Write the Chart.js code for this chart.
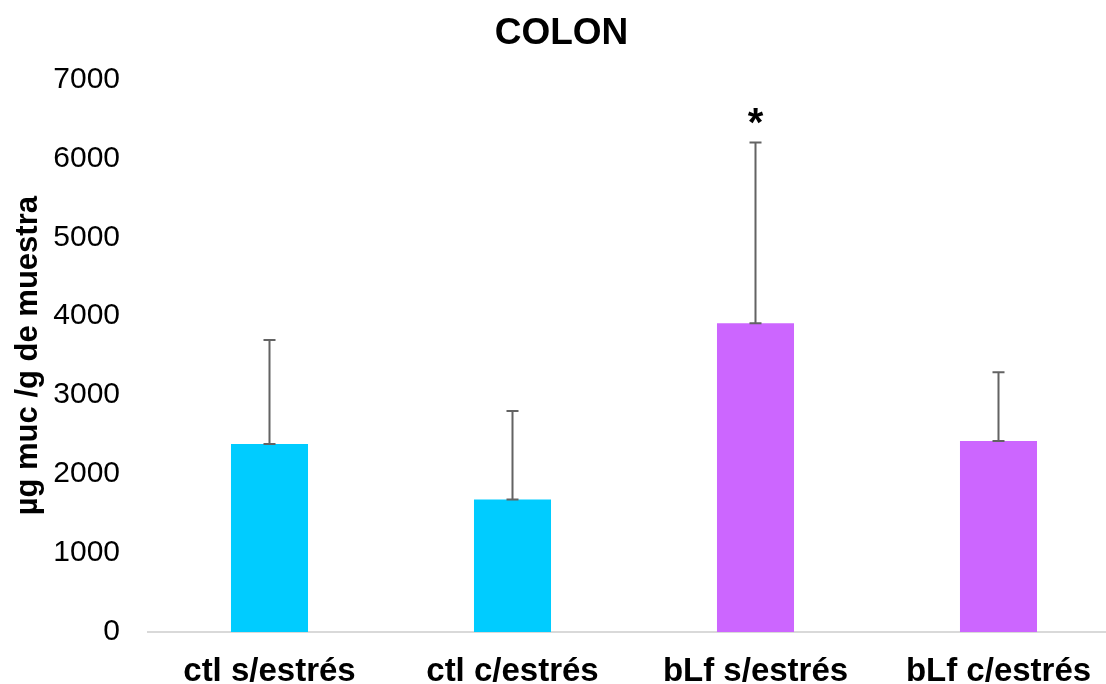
<!DOCTYPE html>
<html>
<head>
<meta charset="utf-8">
<script src="https://cdn.jsdelivr.net/npm/chart.js@4.4.1/dist/chart.umd.min.js"></script>
<style>
  html, body { margin: 0; padding: 0; background: #ffffff; overflow: hidden; }
  #wrap { width: 1122px; height: 684px; position: relative; }
  canvas { display: block; }
</style>
</head>
<body>
<div id="wrap"><canvas id="chart" width="1122" height="684"></canvas></div>
<script>
// Groups and measured mucin content (mean and standard deviation)
const categories = ["ctl s/estrés", "ctl c/estrés", "bLf s/estrés", "bLf c/estrés"];
const means = [2380, 1680, 3910, 2420];
const stdDevs = [1320, 1120, 2290, 870];
const significance = ["", "", "*", ""];
const barColors = ["#00CCFF", "#00CCFF", "#CC66FF", "#CC66FF"];
const yTicks = [0, 1000, 2000, 3000, 4000, 5000, 6000, 7000];

const FONT = "'Liberation Sans', Arial, sans-serif";

// Upper error bars plus significance marks above them
const errorBarPlugin = {
  id: 'errorBars',
  afterDatasetsDraw(chart) {
    const { ctx, scales: { x, y } } = chart;
    ctx.save();
    means.forEach((m, i) => {
      const cx = x.getPixelForValue(i);
      const yBase = y.getPixelForValue(m);
      const yTop = y.getPixelForValue(m + stdDevs[i]);
      ctx.strokeStyle = '#636363';
      ctx.lineWidth = 2;
      ctx.beginPath();
      ctx.moveTo(cx, yBase);
      ctx.lineTo(cx, yTop);
      ctx.moveTo(cx - 6, yTop);
      ctx.lineTo(cx + 6, yTop);
      ctx.moveTo(cx - 6, yBase);
      ctx.lineTo(cx + 6, yBase);
      ctx.stroke();
      if (significance[i]) {
        ctx.fillStyle = '#000000';
        ctx.font = 'bold 40px ' + FONT;
        ctx.textAlign = 'center';
        ctx.textBaseline = 'alphabetic';
        ctx.fillText(significance[i], cx, yTop - 7);
      }
    });
    ctx.restore();
  }
};

new Chart(document.getElementById('chart'), {
  type: 'bar',
  data: {
    labels: categories,
    datasets: [{
      data: means,
      backgroundColor: barColors,
      borderWidth: 0,
      categoryPercentage: 1.0,
      barPercentage: 0.317
    }]
  },
  options: {
    responsive: false,
    animation: false,
    devicePixelRatio: 1,
    layout: { padding: { left: 3, right: 2, top: 0, bottom: 0 } },
    plugins: {
      legend: { display: false },
      tooltip: { enabled: false },
      title: {
        display: true,
        text: 'COLON',
        color: '#000000',
        font: { family: FONT, size: 37, weight: 'bold' },
        padding: { top: 12, bottom: 23 }
      }
    },
    scales: {
      x: {
        grid: { display: false, drawTicks: false },
        border: { display: true, color: '#d9d9d9', width: 2 },
        ticks: {
          color: '#000000',
          font: { family: FONT, size: 33, weight: 'bold' },
          padding: 20,
          maxRotation: 0
        },
        afterFit(scale) { scale.height = 52; }
      },
      y: {
        min: 0,
        max: 7000,
        afterBuildTicks(scale) {
          scale.ticks = yTicks.map(v => ({ value: v }));
        },
        grid: { display: false, drawTicks: false },
        border: { display: false },
        ticks: {
          color: '#000000',
          font: { family: FONT, size: 30 },
          padding: 28,
          callback: v => String(v)
        },
        title: {
          display: true,
          text: 'µg muc /g de muestra',
          color: '#000000',
          font: { family: FONT, size: 31, weight: 'bold' },
          padding: 6.5
        },
        afterFit(scale) { scale.width = 145; }
      }
    }
  },
  plugins: [errorBarPlugin]
});
</script>
</body>
</html>
